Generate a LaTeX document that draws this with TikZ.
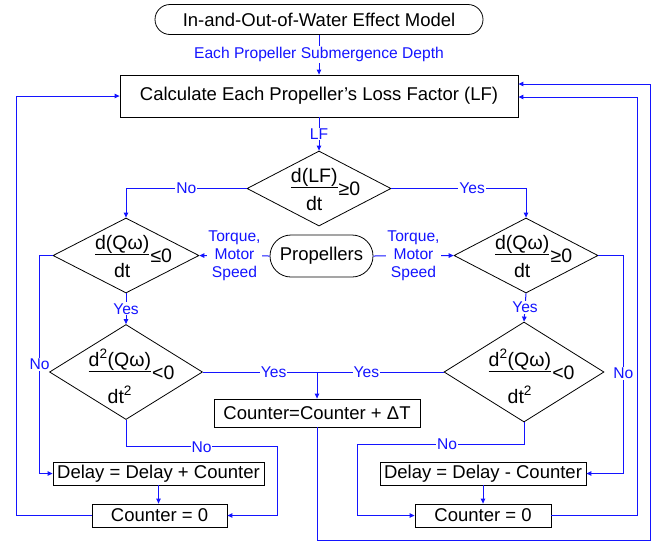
\documentclass[tikz,border=0pt]{standalone}
\usepackage{fontspec}
\setmainfont{Liberation Sans}
\usepackage{amsmath}
\usetikzlibrary{arrows.meta,shapes.geometric,calc}
\definecolor{lb}{RGB}{20,20,255}
\newcommand{\myfr}[4]{$\genfrac{}{}{0.7pt}{1}{\mbox{#1}}{\mbox{\rule{0pt}{#4}#2}}\mbox{\raisebox{-3pt}{#3}}$}
\tikzset{
  conn/.style={draw=lb, line width=1pt},
  arr/.style={conn, -{Triangle[length=5pt,width=4.5pt]}},
  lbl/.style={text=lb, fill=white, inner sep=1pt, font=\fontsize{15.6}{18}\selectfont},
  box/.style={draw, line width=0.8pt, rectangle, inner sep=2pt, font=\fontsize{18.5}{21}\selectfont},
  term/.style={box, rounded corners=#1},
  dia/.style={draw, line width=0.8pt, diamond, inner sep=0pt},
  ftxt/.style={anchor=base, inner sep=0pt, font=\fontsize{19.5}{22}\selectfont},
}
\begin{document}
\begin{tikzpicture}[x=1pt,y=-1pt]
\useasboundingbox (0,0) rectangle (660,542);
% nodes
\node[term=15pt, minimum width=328pt, minimum height=30pt] (top) at (319,19.5) {In-and-Out-of-Water Effect Model};
\node[box, minimum width=398pt, minimum height=42pt] (calc) at (319,96) {Calculate Each Propeller’s Loss Factor (LF)};
\node[dia, minimum width=144pt, minimum height=75pt] (d1) at (319,188.5) {};
\node[ftxt] (d1t) at ($(d1.center)+(6,4.3)$) {\myfr{d(LF)}{dt}{≥0}{22pt}};
\node[dia, minimum width=146pt, minimum height=75pt] (d2) at (126,255.5) {};
\node[ftxt] (d2t) at ($(d2.center)+(7,4.3)$) {\myfr{d(Qω)}{dt}{≤0}{22pt}};
\node[dia, minimum width=144pt, minimum height=75pt] (d3) at (526,255.5) {};
\node[ftxt] (d3t) at ($(d3.center)+(7,4.3)$) {\myfr{d(Qω)}{dt}{≥0}{22pt}};
\node[term=21pt, minimum width=103pt, minimum height=42pt] (prop) at (321.5,256) {Propellers};
\node[dia, minimum width=153pt, minimum height=95pt] (d4) at (126,372) {};
\node[ftxt] (d4t) at ($(d4.center)+(5,4.3)$) {\myfr{d\textsuperscript{2}(Qω)}{dt\textsuperscript{2}}{<0}{31pt}};
\node[dia, minimum width=160pt, minimum height=100pt] (d5) at (524,372) {};
\node[ftxt] (d5t) at ($(d5.center)+(7,4.3)$) {\myfr{d\textsuperscript{2}(Qω)}{dt\textsuperscript{2}}{<0}{31pt}};
\node[box, minimum width=206pt, minimum height=28pt] (cnt) at (317,413) {Counter=Counter + ΔT};
\node[box, minimum width=211pt, minimum height=23pt] (dpc) at (158.5,473.5) {Delay = Delay + Counter};
\node[box, minimum width=135pt, minimum height=23pt] (c0l) at (159.5,515.5) {Counter = 0};
\node[box, minimum width=206pt, minimum height=23pt] (dmc) at (483,473.5) {Delay = Delay - Counter};
\node[box, minimum width=136pt, minimum height=23pt] (c0r) at (483,515.5) {Counter = 0};
\coordinate (j) at (cnt.north |- d4.east);
% connectors
\draw[arr] (top.south) -- node[lbl]{Each Propeller Submergence Depth} (calc.north);
\draw[arr] (calc.south) -- node[lbl]{LF} (d1.north);
\draw[arr] (d1.west) -| node[lbl,pos=0.25]{No} (d2.north);
\draw[arr] (d1.east) -| node[lbl,pos=0.3]{Yes} (d3.north);
\draw[arr] (prop.west) -- node[lbl,align=center]{Torque,\\Motor\\Speed} (d2.east);
\draw[arr] (prop.east) -- node[lbl,align=center]{Torque,\\Motor\\Speed} (d3.west);
\draw[arr] (d2.south) -- node[lbl]{Yes} (d4.north);
\draw[arr] (d3.south) -- node[lbl]{Yes} (d5.north);
\draw[arr] (d4.east) -- node[lbl,pos=0.62]{Yes} (j) -- (cnt.north);
\draw[conn] (d5.west) -- node[lbl,pos=0.61]{Yes} (j);
\draw[arr] (d2.west) -- ++(-13,0) |- node[lbl,pos=0.25]{No} (dpc.west);
\draw[arr] (d3.east) -- ++(25,0) |- node[lbl,pos=0.27]{No} (dmc.east);
\draw[arr] (d4.south) -- ++(0,27) -- node[lbl]{No} ++(151,0) |- (c0l.east);
\draw[arr] (d5.south) -- ++(0,22) -- node[lbl,pos=0.46]{No} ++(-167,0) |- (c0r.west);
\draw[arr] (dpc.south) -- (dpc.south |- c0l.north);
\draw[arr] (dmc.south) -- (dmc.south |- c0r.north);
\draw[arr] (c0l.west) -- ++(-75,0) |- (calc.west);
\draw[arr] (c0r.east) -- ++(86,0) |- ($(calc.east)+(0,1)$);
\draw[arr] (cnt.south) -- ++(0,113) -| ($(calc.east)+(132,-12)$) -- ($(calc.east)+(0,-12)$);
\end{tikzpicture}
\end{document}
